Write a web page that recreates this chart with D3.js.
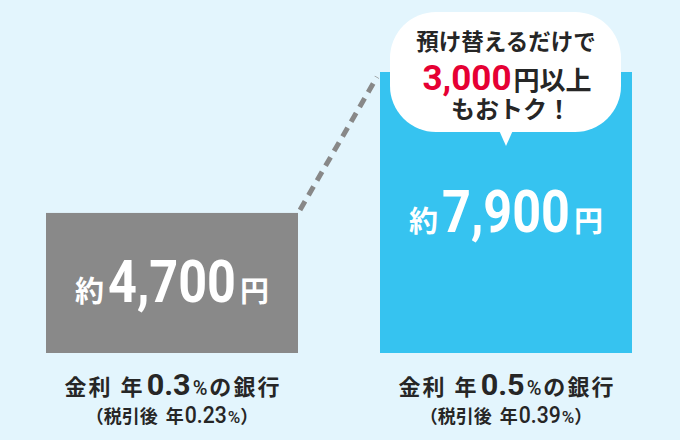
<!DOCTYPE html>
<html>
<head>
<meta charset="utf-8">
<script src="https://cdn.jsdelivr.net/npm/d3@7"></script>
<style>
  html, body { margin: 0; padding: 0; background: #e3f5fd; }
  svg { display: block; }
</style>
</head>
<body>
<svg id="chart" width="680" height="440"></svg>
<script>
// ---- data ----
const banks = ["low", "high"];
const amounts = [4700, 7900];
const rates = ["0.3", "0.5"];
const afterTaxRates = ["0.23", "0.39"];
const calloutLine1 = "預け替えるだけで";
const calloutAmount = "3,000";
const calloutUnit = "円以上";
const calloutLine3 = "もおトク！";

// ---- setup ----
const W = 680, H = 440;
const CJK = "'Noto Sans CJK JP', 'Noto Sans', sans-serif";
const NUM = "Roboto, 'Noto Sans', sans-serif";
const barColors = ["#898989", "#36c3f0"];
const dark = "#262626";

const svg = d3.select("#chart");
svg.append("rect").attr("width", W).attr("height", H).attr("fill", "#e3f5fd");

const x = d3.scaleBand().domain(banks).range([46, 632]).paddingInner(82 / 334).paddingOuter(0);
const y = d3.scaleLinear().domain([1520, 7900]).range([353, 72]);
const fmt = d3.format(",");

// bars
svg.selectAll("rect.bar").data(amounts).join("rect")
  .attr("class", "bar")
  .attr("x", (d, i) => x(banks[i]))
  .attr("y", d => y(d))
  .attr("width", x.bandwidth())
  .attr("height", d => y.range()[0] - y(d))
  .attr("fill", (d, i) => barColors[i]);

// dashed connector
svg.append("line")
  .attr("x1", x(banks[0]) + x.bandwidth() + 2)
  .attr("y1", y(amounts[0]) - 3)
  .attr("x2", x(banks[1]) - 3)
  .attr("y2", y(amounts[1]) + 5)
  .attr("stroke", "#888")
  .attr("stroke-width", 5)
  .attr("stroke-dasharray", "10,7");

// rich text helper: pieces laid out left to right, centred on cx
function richText(g, cx, baseline, pieces) {
  const nodes = pieces.map(p => g.append("text")
      .attr("x", 0).attr("y", 0)
      .attr("font-size", p.size)
      .attr("font-family", p.family)
      .attr("font-weight", p.weight || 700)
      .attr("fill", p.fill)
      .text(p.text));
  const natural = nodes.map(n => n.node().getComputedTextLength());
  const widths = natural.map((w, i) => pieces[i].len || w);
  const total = d3.sum(widths) + d3.sum(pieces, p => p.gap || 0);
  let cur = cx - total / 2;
  nodes.forEach((n, i) => {
    cur += pieces[i].gap || 0;
    const sx = widths[i] / natural[i];
    n.attr("transform", `translate(${cur},${baseline}) scale(${sx},1)`);
    cur += widths[i];
  });
}

// bar value labels
const labelBaselines = [302, 232];
amounts.forEach((v, i) => {
  const cx = x(banks[i]) + x.bandwidth() / 2;
  richText(svg, cx, labelBaselines[i], [
    { text: "約", size: 29, family: CJK, fill: "#fff" },
    { text: fmt(v), size: 60, family: NUM, fill: "#fff", len: 128, gap: 4 },
    { text: "円", size: 29, family: CJK, fill: "#fff", gap: 4 }
  ]);
});

// category labels below bars
rates.forEach((r, i) => {
  const cx = x(banks[i]) + x.bandwidth() / 2;
  richText(svg, cx, 395, [
    { text: "金", size: 22, family: CJK, fill: dark },
    { text: "利", size: 22, family: CJK, fill: dark, gap: 2 },
    { text: "年", size: 22, family: CJK, fill: dark, gap: 10 },
    { text: r, size: 30, family: NUM, fill: dark, gap: 4, len: 44 },
    { text: "%", size: 20, family: NUM, fill: dark, gap: 2, weight: 500 },
    { text: "の", size: 22, family: CJK, fill: dark, gap: 2 },
    { text: "銀", size: 22, family: CJK, fill: dark, gap: 2 },
    { text: "行", size: 22, family: CJK, fill: dark, gap: 2 }
  ]);
  richText(svg, cx, 423, [
    { text: "（税引後", size: 18, family: CJK, fill: dark },
    { text: "年", size: 18, family: CJK, fill: dark, gap: 8 },
    { text: afterTaxRates[i], size: 23, family: NUM, fill: dark, weight: 500, len: 42, gap: 1 },
    { text: "%", size: 17, family: NUM, fill: dark, weight: 500, gap: 1 },
    { text: "）", size: 18, family: CJK, fill: dark }
  ]);
});

// speech bubble
const bx0 = 390, bx1 = 621, by0 = 12, by1 = 132, r = 46;
const bcx = x(banks[1]) + x.bandwidth() / 2;
const bubble = svg.append("g");
bubble.append("rect")
  .attr("x", bx0).attr("y", by0)
  .attr("width", bx1 - bx0).attr("height", by1 - by0)
  .attr("rx", r).attr("ry", r)
  .attr("fill", "#fff");
bubble.append("path")
  .attr("d", `M${bcx - 8},${by1 - 4} L${bcx + 8},${by1 - 4} L${bcx},${by1 + 14} Z`)
  .attr("fill", "#fff");

richText(bubble, 506, 50, [
  { text: calloutLine1, size: 22.5, family: CJK, fill: dark }
]);
richText(bubble, 507, 90, [
  { text: calloutAmount, size: 35, family: NUM, fill: "#e60033" },
  { text: calloutUnit, size: 26, family: CJK, fill: dark, gap: 2 }
]);
richText(bubble, 511, 118, [
  { text: calloutLine3, size: 24, family: CJK, fill: dark }
]);
</script>
</body>
</html>
